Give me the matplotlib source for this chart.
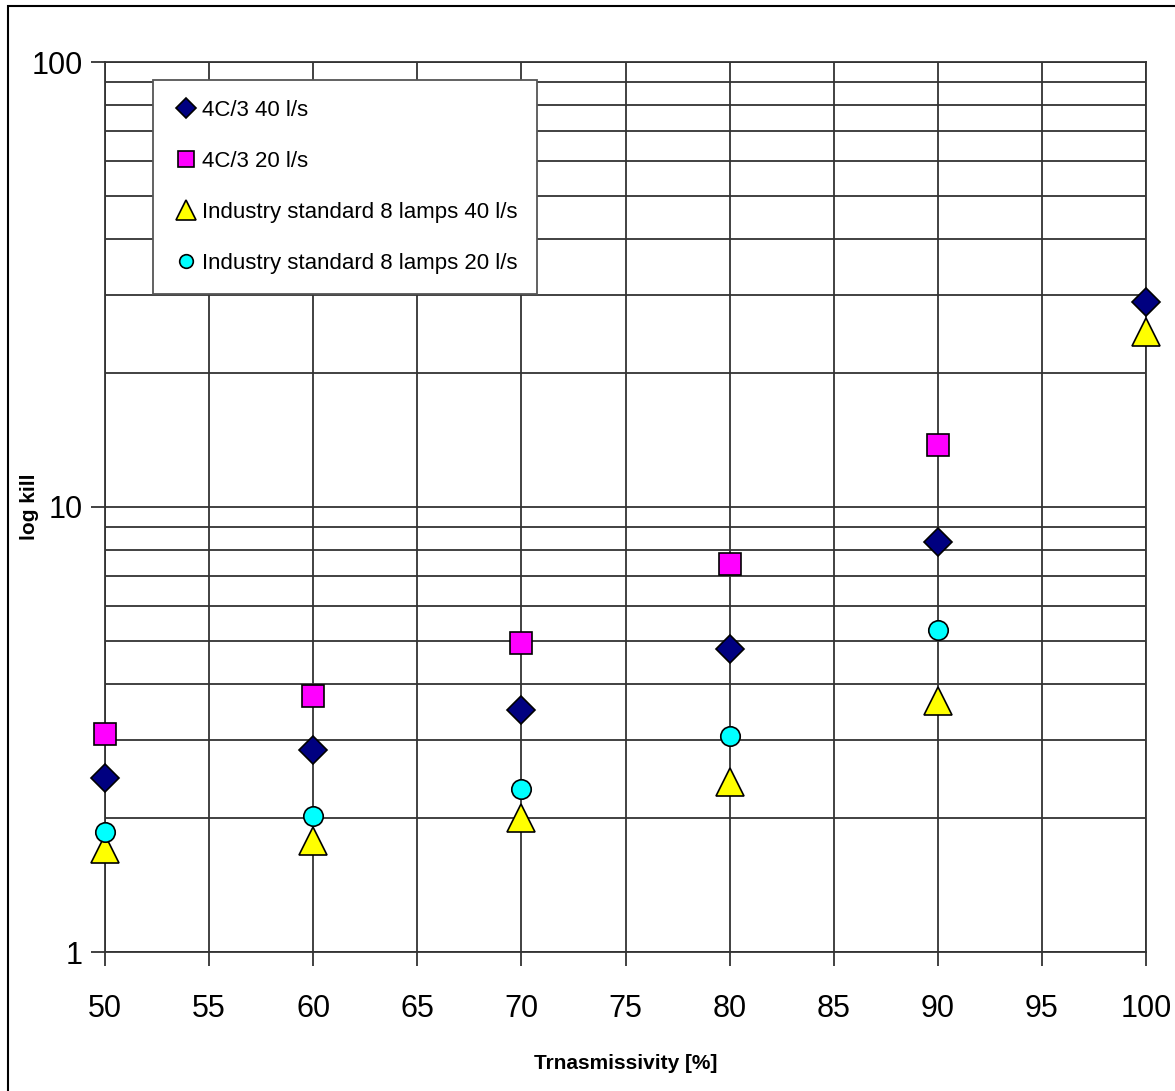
import matplotlib
matplotlib.use("Agg")
import matplotlib.pyplot as plt
from matplotlib.ticker import LogLocator, NullFormatter, FixedLocator
from matplotlib.patches import Rectangle

# Values
transmissivity = [50, 60, 70, 80, 90, 100]
c43_40 = [2.46, 2.84, 3.50, 4.80, 8.35, 28.9]
c43_20 = [3.09, 3.76, 4.95, 7.45, 13.8]
ind_40 = [1.70, 1.78, 2.00, 2.41, 3.66, 24.7]
ind_20 = [1.86, 2.02, 2.32, 3.06, 5.29]
labels = ["4C/3 40 l/s", "4C/3 20 l/s",
          "Industry standard 8 lamps 40 l/s", "Industry standard 8 lamps 20 l/s"]

plt.rcParams['font.family'] = ['Liberation Sans Narrow', 'Liberation Sans', 'DejaVu Sans']

fig = plt.figure(figsize=(11.75, 10.91), dpi=100)
ax = fig.add_axes([105/1175, 1 - 952/1091, 1041/1175, 890/1091])

# figure border
fig.patches.append(Rectangle((8/1175, -0.05), 1.2, 1 - 6/1091 + 0.05,
                             transform=fig.transFigure, fill=False,
                             edgecolor='black', linewidth=1.5))

ax.set_yscale('log')
ax.set_xlim(50, 100)
ax.set_ylim(1, 100)

gc = '#333333'
ax.yaxis.set_major_locator(FixedLocator([1, 10, 100]))
ax.yaxis.set_minor_locator(LogLocator(base=10, subs=range(2, 10)))
ax.yaxis.set_minor_formatter(NullFormatter())
ax.set_yticklabels(['1', '10', '100'])
ax.xaxis.set_major_locator(FixedLocator(range(50, 101, 5)))
ax.grid(True, which='both', axis='y', color=gc, linewidth=1.3)
ax.grid(True, which='major', axis='x', color=gc, linewidth=1.3)
ax.tick_params(axis='y', which='minor', length=0)
ax.tick_params(axis='both', which='major', length=10, width=1.3, color=gc,
               labelsize=22, pad=6)
ax.tick_params(axis='x', pad=20)
ax.set_axisbelow(True)
for s in ax.spines.values():
    s.set_color(gc)
    s.set_linewidth(1.3)

ax.plot(transmissivity, c43_40, linestyle='none', marker='D', markersize=14,
        markerfacecolor='#000080', markeredgecolor='black', markeredgewidth=1.2,
        label=labels[0], clip_on=False, zorder=5)
ax.plot(transmissivity[:5], c43_20, linestyle='none', marker='s', markersize=16,
        markerfacecolor='#ff00ff', markeredgecolor='black', markeredgewidth=1.2,
        label=labels[1], clip_on=False, zorder=5)
ax.plot(transmissivity, ind_40, linestyle='none', marker='^', markersize=20,
        markerfacecolor='#ffff00', markeredgecolor='black', markeredgewidth=1.2,
        label=labels[2], clip_on=False, zorder=5)
ax.plot(transmissivity[:5], ind_20, linestyle='none', marker='o', markersize=14,
        markerfacecolor='#00ffff', markeredgecolor='black', markeredgewidth=1.2,
        label=labels[3], clip_on=False, zorder=5)

leg = ax.legend(loc='upper left', bbox_to_anchor=(0.046, 0.98), fontsize=16,
                frameon=True, fancybox=False, framealpha=1, edgecolor='#555555',
                borderaxespad=0, handletextpad=0.1, labelspacing=1.35,
                markerscale=0.7, borderpad=0.9, handlelength=1.2)
leg.get_frame().set_linewidth(1.3)

ax.set_xlabel('Trnasmissivity [%]', fontsize=15, fontweight='bold', labelpad=22)
ax.set_ylabel('log kill', fontsize=15, fontweight='bold')
ax.yaxis.set_label_coords(-0.063, 0.5)

fig.savefig('out.png', dpi=100)
